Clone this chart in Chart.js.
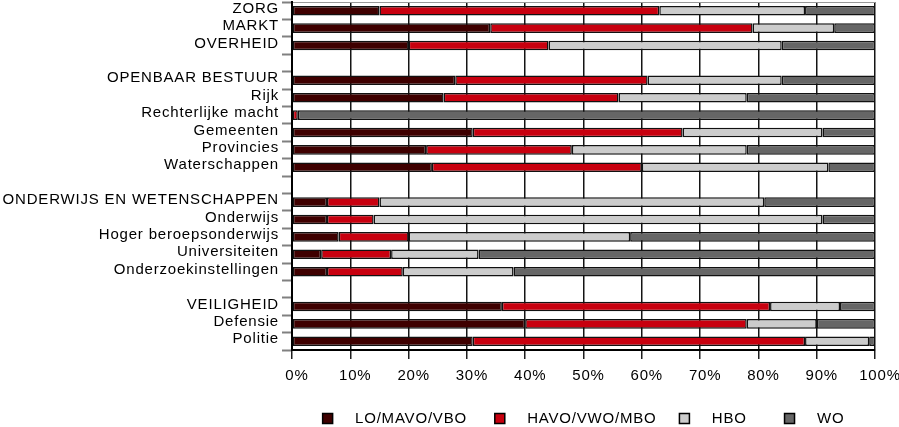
<!DOCTYPE html>
<html><head><meta charset="utf-8">
<script src="https://cdn.jsdelivr.net/npm/chart.js@4/dist/chart.umd.min.js"></script>
<style>html,body{margin:0;padding:0;background:#fff}</style>
</head><body>
<canvas id="c" width="899" height="427" style="display:block;width:899px;height:427px"></canvas>
<script>
const categories = ['ZORG','MARKT','OVERHEID','','OPENBAAR BESTUUR','Rijk','Rechterlijke macht','Gemeenten','Provincies','Waterschappen','','ONDERWIJS EN WETENSCHAPPEN','Onderwijs','Hoger beroepsonderwijs','Universiteiten','Onderzoekinstellingen','','VEILIGHEID','Defensie','Politie'];
const seriesNames = ['LO/MAVO/VBO','HAVO/VWO/MBO','HBO','WO'];
const loMavoVbo  = [15,34,20,null,28,26,0,31,23,24,null,6,6,8,5,6,null,36,40,31];
const havoVwoMbo = [48,45,24,null,33,30,1,36,25,36,null,9,8,12,12,13,null,46,38,57];
const hbo        = [25,14,40,null,23,22,0,24,30,32,null,66,77,38,15,19,null,12,12,11];
const wo         = [12,7,16,null,16,22,99,9,22,8,null,19,9,42,68,62,null,6,10,1];
const xTickStep = 10;

const colors = ['#3f0000','#c8000f','#cccccc','#666666'];
const seriesData = [loMavoVbo, havoVwoMbo, hbo, wo];
const legendPadRight = ['    ', '   ', '      ', ''];

const FONT = {family:'"Liberation Sans", Arial, sans-serif', size:15, weight:'normal'};

const spacingPlugin = {
  id:'spacing',
  beforeUpdate(c){ c.ctx.letterSpacing = '0.8px'; },
  beforeLayout(c){ c.ctx.letterSpacing = '0.8px'; },
  beforeDraw(c){ c.ctx.letterSpacing = '0.8px'; }
};

new Chart(document.getElementById('c'), {
  type:'bar',
  data:{
    labels: categories,
    datasets: seriesData.map((d,i)=>({
      label: seriesNames[i],
      data: d,
      backgroundColor: colors[i],
      borderColor:'#111',
      borderWidth:1.5,
      borderSkipped:false,
      barPercentage:0.55,
      categoryPercentage:1.0
    }))
  },
  options:{
    indexAxis:'y',
    responsive:false,
    animation:false,
    devicePixelRatio:1,
    layout:{padding:{top:2,right:0,bottom:-9,left:2}},
    scales:{
      x:{
        type:'linear',
        stacked:true, min:0, max:100,
        afterFit(s){ s.height = 53; s.paddingLeft = 0; s.paddingRight = 24; },
        grid:{display:true, drawOnChartArea:true, color:'rgb(20,20,20)', lineWidth:1.5, drawTicks:true, tickLength:9, tickColor:'rgb(30,30,30)', tickWidth:1.5},
        border:{display:true, color:'rgb(0,0,0)', width:2},
        ticks:{stepSize:xTickStep, callback:v=>v+'%', font:FONT, color:'#000', padding:8, labelOffset:5, maxRotation:0, autoSkip:false}
      },
      y:{
        stacked:true,
        afterFit(s){ s.width = 290; s.paddingTop = 0; s.paddingBottom = 0; },
        grid:{
          drawOnChartArea:true, drawTicks:true, tickLength:10, tickColor:'#808080', tickWidth:2, offset:true,
          color:(ctx)=> ctx.index === 0 ? '#999999' : 'rgba(0,0,0,0)',
          lineWidth:1
        },
        border:{display:true, color:'rgb(0,0,0)', width:2},
        ticks:{font:FONT, color:'#000', padding:3, autoSkip:false, labelOffset:-2}
      }
    },
    plugins:{
      tooltip:{enabled:false},
      legend:{
        position:'bottom',
        fullSize:false,
        labels:{
          font:FONT, color:'#000', boxWidth:10, boxHeight:10, padding:8,
          generateLabels(chart){
            return chart.data.datasets.map((ds,i)=>({
              text:'   '+ds.label+legendPadRight[i],
              fillStyle:ds.backgroundColor,
              strokeStyle:'#000',
              lineWidth:1.5,
              hidden:false,
              datasetIndex:i,
              fontColor:'#000'
            }));
          }
        }
      }
    }
  },
  plugins:[spacingPlugin]
});
</script>
</body></html>
